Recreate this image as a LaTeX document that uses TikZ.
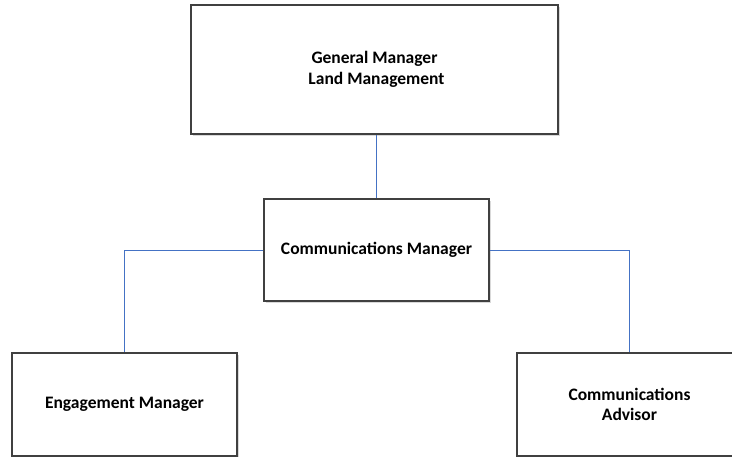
\documentclass[tikz,border=0pt]{standalone}
\usepackage{fontspec}
\setmainfont{Carlito}
\usetikzlibrary{shadows}

\definecolor{linkblue}{RGB}{68,114,196}
\definecolor{boxgray}{RGB}{64,64,64}

\tikzset{
  role/.style={rectangle,draw=boxgray,line width=1.2pt,fill=white,
    font=\bfseries\fontsize{17.5}{20.5}\selectfont,align=center,
    inner sep=0pt,
    drop shadow={shadow xshift=2pt,shadow yshift=-2pt,opacity=0.3}},
  link/.style={draw=linkblue,line width=0.8pt}
}

\begin{document}
\begin{tikzpicture}[x=1pt,y=1pt]

  \useasboundingbox (0,0) rectangle (732,-456);
  \clip (0,0) rectangle (732,-456);

  \node (gm) at (374.5,-69.5) [role,minimum width=367pt,minimum height=129pt]
    {General Manager\\ \ Land Management};
  \node (cm) at (376.5,-250) [role,minimum width=225pt,minimum height=102pt]
    {Communications Manager};
  \node (em) at (124.5,-404.5) [role,minimum width=225pt,minimum height=103pt]
    {Engagement Manager};
  \node (ca) at (629.5,-404.5) [role,minimum width=225pt,minimum height=103pt]
    {Communications\\Advisor};

  \draw [link] (cm.north) -- (cm.north |- gm.south);
  \draw [link] (cm.west) -| (em.north);
  \draw [link] (cm.east) -| (ca.north);

\end{tikzpicture}
\end{document}
